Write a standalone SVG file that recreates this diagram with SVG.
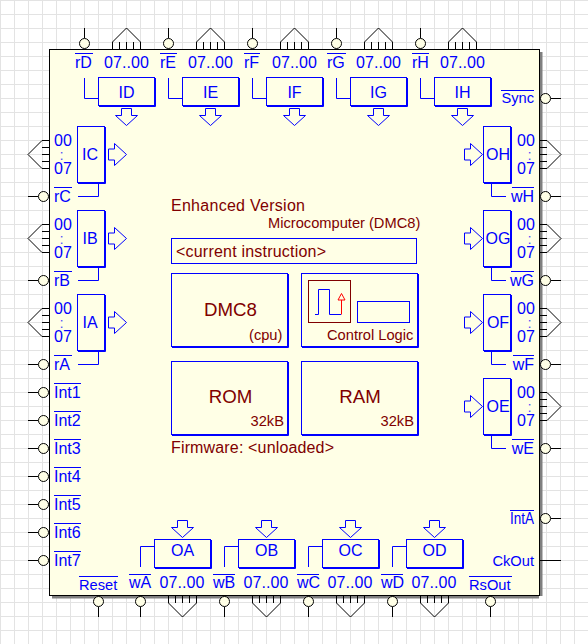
<svg xmlns="http://www.w3.org/2000/svg" width="588" height="644" viewBox="0 0 588 644">
<style>
text{font-family:"Liberation Sans",Arial,sans-serif;font-size:16px;fill:#0000ff}
.s{font-size:14.67px}
.r{fill:#800000}
.l{font-size:18.67px;fill:#800000}
.m{text-anchor:middle}
.e{text-anchor:end}
.d{font-size:15px;text-anchor:middle;fill-opacity:.7}
.b{fill:none;stroke:#0000ff;stroke-width:1}
.k{fill:none;stroke:#000;stroke-width:1}
.o{stroke:#0000ff;stroke-width:1}
</style>
<defs>
<pattern id="gp" width="14" height="14" patternUnits="userSpaceOnUse"><path d="M.5 0V14M0 .5H14" stroke="#e3e3e3" fill="none"/></pattern>
<g id="hb"><rect class="b" x=".5" y=".5" width="56" height="28"/><path class="b" d="M1 29.5H57.5V1"/></g>
<g id="vb"><rect class="b" x=".5" y=".5" width="27" height="56"/><path class="b" d="M1 57.5H28.5V1"/></g>
<path id="da" class="b" d="M-5 0H5V7H11L0 17L-11 7H-5Z"/>
<path id="ra" class="b" d="M0 -5.5H6V-11L18 0L6 11V5.5H0Z"/>
<path id="bus" class="k" d="M-14 0V-7L0 -21L14 -7V0M-7 -7V0M0 -7V0M7 -7V0"/>
<g id="pin"><circle cx="0" cy="-5.5" r="5" fill="#ffffe6" stroke="#000"/><path class="k" d="M0 -11V-21"/></g>
<g id="cb"><rect class="b" x=".5" y=".5" width="116" height="73"/><path class="b" d="M1 74.5H117.5V1"/></g>
</defs>
<rect width="588" height="644" fill="#fff"/>
<rect width="588" height="644" fill="url(#gp)"/>
<g id="chip">
<path d="M52 596H542.5V52H539V598.5H52Z" fill="#808080"/>
<rect x="49.5" y="49.5" width="490" height="546" fill="#ffffe6" stroke="#000"/>
</g>
<g id="connectors">
<path class="b" d="M84.5 78V98.5H98M168.5 78V98.5H182M252.5 78V98.5H266M336.5 78V98.5H350M420.5 78V98.5H434"/>
<path class="b" d="M98.5 184V196.5H78M98.5 268V280.5H78M98.5 352V364.5H78"/>
<path class="b" d="M491.5 184V196.5H506M491.5 268V280.5H506M491.5 352V364.5H506M491.5 436V448.5H506"/>
<path class="b" d="M140.5 567V546.5H154M224.5 567V546.5H238M308.5 567V546.5H322M392.5 567V546.5H406"/>
<path class="k" d="M540 560.5H561"/>
</g>
<g id="ID"><use href="#pin" transform="translate(84.5,49)"/><use href="#bus" transform="translate(126.5,49)"/><text x="75" y="68">rD</text><path class="o" d="M75 53.5H93"/><text x="104" y="68" textLength="45">07..00</text><use href="#hb" x="98" y="77"/><text class="m" x="126.5" y="98">ID</text><use href="#da" x="126.5" y="108.5"/></g>
<g id="IE"><use href="#pin" transform="translate(168.5,49)"/><use href="#bus" transform="translate(210.5,49)"/><text x="160" y="68">rE</text><path class="o" d="M160 53.5H177"/><text x="188" y="68" textLength="45">07..00</text><use href="#hb" x="182" y="77"/><text class="m" x="210.5" y="98">IE</text><use href="#da" x="210.5" y="108.5"/></g>
<g id="IF"><use href="#pin" transform="translate(252.5,49)"/><use href="#bus" transform="translate(294.5,49)"/><text x="244" y="68">rF</text><path class="o" d="M244 53.5H260"/><text x="272" y="68" textLength="45">07..00</text><use href="#hb" x="266" y="77"/><text class="m" x="294.5" y="98">IF</text><use href="#da" x="294.5" y="108.5"/></g>
<g id="IG"><use href="#pin" transform="translate(336.5,49)"/><use href="#bus" transform="translate(378.5,49)"/><text x="327" y="68">rG</text><path class="o" d="M327 53.5H346"/><text x="356" y="68" textLength="45">07..00</text><use href="#hb" x="350" y="77"/><text class="m" x="378.5" y="98">IG</text><use href="#da" x="378.5" y="108.5"/></g>
<g id="IH"><use href="#pin" transform="translate(420.5,49)"/><use href="#bus" transform="translate(462.5,49)"/><text x="412" y="68">rH</text><path class="o" d="M412 53.5H429"/><text x="440" y="68" textLength="45">07..00</text><use href="#hb" x="434" y="77"/><text class="m" x="462.5" y="98">IH</text><use href="#da" x="462.5" y="108.5"/></g>
<g id="IC"><use href="#bus" transform="translate(49,154.5) rotate(-90)"/><use href="#pin" transform="translate(49,196.5) rotate(-90)"/><text x="54" y="146">00</text><text class="d" x="61.5" y="159.7">:</text><text x="54" y="174">07</text><text x="54" y="202">rC</text><path class="o" d="M54 187.5H72"/><use href="#vb" x="77" y="126"/><text class="m" x="90" y="160">IC</text><use href="#ra" x="108.5" y="154.5"/></g>
<g id="IB"><use href="#bus" transform="translate(49,238.5) rotate(-90)"/><use href="#pin" transform="translate(49,280.5) rotate(-90)"/><text x="54" y="230">00</text><text class="d" x="61.5" y="243.7">:</text><text x="54" y="258">07</text><text x="54" y="286">rB</text><path class="o" d="M54 271.5H72"/><use href="#vb" x="77" y="210"/><text class="m" x="90" y="244">IB</text><use href="#ra" x="108.5" y="238.5"/></g>
<g id="IA"><use href="#bus" transform="translate(49,322.5) rotate(-90)"/><use href="#pin" transform="translate(49,364.5) rotate(-90)"/><text x="54" y="314">00</text><text class="d" x="61.5" y="327.7">:</text><text x="54" y="342">07</text><text x="54" y="370">rA</text><path class="o" d="M54 355.5H72"/><use href="#vb" x="77" y="294"/><text class="m" x="90" y="328">IA</text><use href="#ra" x="108.5" y="322.5"/></g>
<g id="Int1"><use href="#pin" transform="translate(49,392.5) rotate(-90)"/><text x="54" y="398">Int1</text><path class="o" d="M54 383.5H81"/></g>
<g id="Int2"><use href="#pin" transform="translate(49,420.5) rotate(-90)"/><text x="54" y="426">Int2</text><path class="o" d="M54 411.5H81"/></g>
<g id="Int3"><use href="#pin" transform="translate(49,448.5) rotate(-90)"/><text x="54" y="454">Int3</text><path class="o" d="M54 439.5H81"/></g>
<g id="Int4"><use href="#pin" transform="translate(49,476.5) rotate(-90)"/><text x="54" y="482">Int4</text><path class="o" d="M54 467.5H81"/></g>
<g id="Int5"><use href="#pin" transform="translate(49,504.5) rotate(-90)"/><text x="54" y="510">Int5</text><path class="o" d="M54 495.5H81"/></g>
<g id="Int6"><use href="#pin" transform="translate(49,532.5) rotate(-90)"/><text x="54" y="538">Int6</text><path class="o" d="M54 523.5H81"/></g>
<g id="Int7"><use href="#pin" transform="translate(49,560.5) rotate(-90)"/><text x="54" y="566">Int7</text><path class="o" d="M54 551.5H81"/></g>
<g id="Sync"><use href="#pin" transform="translate(540,98.5) rotate(90)"/><text class="s e" x="534" y="103">Sync</text><path class="o" d="M501 90.5H534"/></g>
<g id="OH"><use href="#bus" transform="translate(540,154.5) rotate(90)"/><use href="#pin" transform="translate(540,196.5) rotate(90)"/><text x="517" y="146">00</text><text class="d" x="529.5" y="159.7">:</text><text x="517" y="174">07</text><text class="e" x="534" y="202">wH</text><path class="o" d="M512 187.5H534"/><use href="#vb" x="483" y="126"/><text class="m" x="498" y="160">OH</text><use href="#ra" x="464.5" y="154.5"/></g>
<g id="OG"><use href="#bus" transform="translate(540,238.5) rotate(90)"/><use href="#pin" transform="translate(540,280.5) rotate(90)"/><text x="517" y="230">00</text><text class="d" x="529.5" y="243.7">:</text><text x="517" y="258">07</text><text class="e" x="534" y="286">wG</text><path class="o" d="M511 271.5H534"/><use href="#vb" x="483" y="210"/><text class="m" x="498" y="244">OG</text><use href="#ra" x="464.5" y="238.5"/></g>
<g id="OF"><use href="#bus" transform="translate(540,322.5) rotate(90)"/><use href="#pin" transform="translate(540,364.5) rotate(90)"/><text x="517" y="314">00</text><text class="d" x="529.5" y="327.7">:</text><text x="517" y="342">07</text><text class="e" x="534" y="370">wF</text><path class="o" d="M513 355.5H534"/><use href="#vb" x="483" y="294"/><text class="m" x="498" y="328">OF</text><use href="#ra" x="464.5" y="322.5"/></g>
<g id="OE"><use href="#bus" transform="translate(540,406.5) rotate(90)"/><use href="#pin" transform="translate(540,448.5) rotate(90)"/><text x="517" y="398">00</text><text class="d" x="529.5" y="411.7">:</text><text x="517" y="426">07</text><text class="e" x="534" y="454">wE</text><path class="o" d="M512 439.5H534"/><use href="#vb" x="483" y="378"/><text class="m" x="498" y="412">OE</text><use href="#ra" x="464.5" y="406.5"/></g>
<g id="IntA"><use href="#pin" transform="translate(540,518.5) rotate(90)"/><text x="510" y="524" textLength="24" lengthAdjust="spacingAndGlyphs">IntA</text><path class="o" d="M510 510.5H534"/></g>
<g id="CkOut"><text class="s e" x="534" y="566">CkOut</text></g>
<g id="Reset"><use href="#pin" transform="translate(98.5,596) rotate(180)"/><text class="s" x="79" y="590">Reset</text><path class="o" d="M79 576.5H118"/></g>
<g id="RsOut"><use href="#pin" transform="translate(490.5,596) rotate(180)"/><text class="s" x="469" y="590">RsOut</text><path class="o" d="M469 576.5H512"/></g>
<g id="OA"><use href="#pin" transform="translate(140.5,596) rotate(180)"/><use href="#bus" transform="translate(182.5,596) rotate(180)"/><text x="129" y="588">wA</text><path class="o" d="M129 574.5H151"/><text x="159.5" y="588" textLength="45">07..00</text><use href="#hb" x="154" y="539"/><text class="m" x="182.5" y="556">OA</text><use href="#da" x="182.5" y="520.5"/></g>
<g id="OB"><use href="#pin" transform="translate(224.5,596) rotate(180)"/><use href="#bus" transform="translate(266.5,596) rotate(180)"/><text x="213" y="588">wB</text><path class="o" d="M213 574.5H235"/><text x="243.5" y="588" textLength="45">07..00</text><use href="#hb" x="238" y="539"/><text class="m" x="266.5" y="556">OB</text><use href="#da" x="266.5" y="520.5"/></g>
<g id="OC"><use href="#pin" transform="translate(308.5,596) rotate(180)"/><use href="#bus" transform="translate(350.5,596) rotate(180)"/><text x="297" y="588">wC</text><path class="o" d="M297 574.5H319"/><text x="327.5" y="588" textLength="45">07..00</text><use href="#hb" x="322" y="539"/><text class="m" x="350.5" y="556">OC</text><use href="#da" x="350.5" y="520.5"/></g>
<g id="OD"><use href="#pin" transform="translate(392.5,596) rotate(180)"/><use href="#bus" transform="translate(434.5,596) rotate(180)"/><text x="381" y="588">wD</text><path class="o" d="M381 574.5H403"/><text x="411.5" y="588" textLength="45">07..00</text><use href="#hb" x="406" y="539"/><text class="m" x="434.5" y="556">OD</text><use href="#da" x="434.5" y="520.5"/></g>
<g id="title"><text class="r" x="171" y="211" textLength="134">Enhanced Version</text><text class="s r" x="268" y="228">Microcomputer (DMC8)</text></g>
<g id="instruction"><rect class="b" x="171.5" y="238.5" width="245" height="25"/><text class="r" x="176" y="257" textLength="150">&lt;current instruction&gt;</text></g>
<g id="DMC8"><use href="#cb" x="171" y="273"/><text class="l m" x="230.5" y="316">DMC8</text><text class="s r" x="249" y="340">(cpu)</text></g>
<g id="ControlLogic"><use href="#cb" x="301" y="273"/><rect x="308.5" y="280.5" width="42" height="42" fill="none" stroke="#800000"/><path class="b" d="M315 314.5H318.5V289.5H329.5V314.5H341"/><path d="M341.5 314.5V300" stroke="#ff0000" fill="none"/><path d="M341.5 293.5L345 300H338Z" fill="none" stroke="#ff0000"/><rect class="b" x="357.5" y="301.5" width="52" height="21"/><text class="s r" x="327" y="340">Control Logic</text></g>
<g id="ROM"><use href="#cb" x="171" y="361"/><text class="l m" x="230.5" y="403">ROM</text><text class="s r" x="250.5" y="426">32kB</text></g>
<g id="RAM"><use href="#cb" x="301" y="361"/><text class="l m" x="360" y="403">RAM</text><text class="s r" x="380.5" y="426">32kB</text></g>
<g id="firmware"><text class="r" x="171" y="453" textLength="163">Firmware: &lt;unloaded&gt;</text></g>
</svg>
